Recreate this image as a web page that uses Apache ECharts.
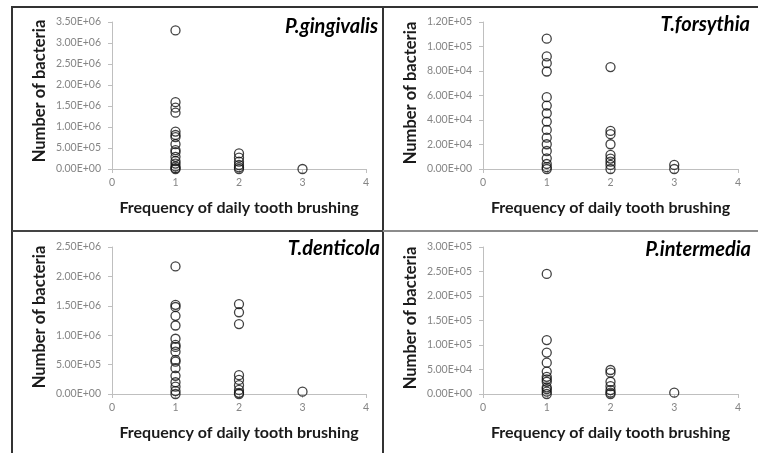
<!DOCTYPE html>
<html><head><meta charset="utf-8">
<script src="https://cdn.jsdelivr.net/npm/echarts@6/dist/echarts.min.js"></script>
<style>html,body{margin:0;padding:0;background:#fff}#c{width:758px;height:453px}</style>
</head><body><div id="c"></div>
<script>
// Panel titles
const panelTitles = ['P.gingivalis', 'T.forsythia', 'T.denticola', 'P.intermedia'];
const xTitle = 'Frequency of daily tooth brushing';
const yTitle = 'Number of bacteria';
// x tick values (brushing frequency)
const xTicks = [0, 1, 2, 3, 4];
// y-axis ranges [max, interval]
const yMax = [3.5e6, 1.2e5, 2.5e6, 3.0e5];
const yStep = [5e5, 2e4, 5e5, 5e4];

// P.gingivalis
const pgX1 = [3.30e6, 1.59e6, 1.46e6, 1.34e6, 0.89e6, 0.81e6, 0.76e6, 0.59e6, 0.45e6, 0.40e6, 0.29e6, 0.19e6, 0.13e6, 0.06e6, 0.02e6, 0];
const pgX2 = [0.37e6, 0.27e6, 0.175e6, 0.095e6, 0.04e6, 0];
const pgX3 = [0];
// T.forsythia
const tfX1 = [1.064e5, 9.19e4, 8.64e4, 7.96e4, 5.86e4, 5.18e4, 4.55e4, 3.87e4, 3.19e4, 2.56e4, 2.02e4, 1.47e4, 0.87e4, 0.41e4, 0.15e4, 0];
const tfX2 = [8.32e4, 3.11e4, 2.84e4, 2.02e4, 1.15e4, 0.85e4, 0.6e4, 0.33e4, 0];
const tfX3 = [0.33e4, 0];
// T.denticola
const tdX1 = [2.17e6, 1.517e6, 1.48e6, 1.33e6, 1.165e6, 0.94e6, 0.835e6, 0.80e6, 0.72e6, 0.58e6, 0.55e6, 0.44e6, 0.31e6, 0.20e6, 0.125e6, 0.05e6, 0];
const tdX2 = [1.53e6, 1.39e6, 1.19e6, 0.32e6, 0.24e6, 0.15e6, 0.07e6, 0.02e6, 0];
const tdX3 = [0.04e6];
// P.intermedia
const piX1 = [2.45e5, 1.10e5, 8.45e4, 6.4e4, 4.57e4, 3.5e4, 3.0e4, 2.5e4, 1.36e4, 1.0e4, 0.48e4, 0];
const piX2 = [4.9e4, 4.36e4, 2.5e4, 1.6e4, 0.8e4, 0.3e4, 0];
const piX3 = [0.27e4];

const panels = [[pgX1, pgX2, pgX3], [tfX1, tfX2, tfX3], [tdX1, tdX2, tdX3], [piX1, piX2, piX3]];

function fmtE(v) {
  if (v === 0) return '0.00E+00';
  const s = v.toExponential(2).toUpperCase();
  const m = s.split('E');
  let e = parseInt(m[1], 10);
  const sign = e < 0 ? '-' : '+';
  e = Math.abs(e);
  return m[0] + 'E' + sign + (e < 10 ? '0' + e : '' + e);
}

const FONT = 'Lato';
const gridPos = [
  {left: 112, top: 22, width: 254, height: 147},
  {left: 483, top: 22, width: 255, height: 147},
  {left: 112, top: 247, width: 254, height: 147},
  {left: 483, top: 247, width: 255, height: 147}
];
const yTitlePos = [[40, 91], [411, 93], [40, 317], [411, 318]];
const grids = [], xAxes = [], yAxes = [], series = [], graphics = [];
const axisLineStyle = {color: '#bfbfbf', width: 1};
panels.forEach((cols, i) => {
  grids.push(Object.assign({containLabel: false}, gridPos[i]));
  xAxes.push({
    type: 'value', gridIndex: i, min: xTicks[0], max: xTicks[xTicks.length - 1], interval: 1,
    axisLine: {show: true, lineStyle: axisLineStyle},
    axisTick: {show: true, length: 4, lineStyle: axisLineStyle},
    splitLine: {show: false},
    axisLabel: {color: '#858585', fontSize: 10.5, fontFamily: FONT, margin: 8},
    name: xTitle, nameLocation: 'middle', nameGap: 31,
    nameTextStyle: {fontFamily: FONT, fontWeight: 'bold', fontSize: 16, color: '#1a1a1a'}
  });
  yAxes.push({
    type: 'value', gridIndex: i, min: 0, max: yMax[i], interval: yStep[i],
    axisLine: {show: true, lineStyle: axisLineStyle},
    axisTick: {show: true, length: 4, lineStyle: axisLineStyle},
    splitLine: {show: false},
    axisLabel: {color: '#858585', fontSize: 10.5, fontFamily: FONT, margin: 11, formatter: fmtE}
  });
  graphics.push({type: 'text', x: yTitlePos[i][0], y: yTitlePos[i][1], rotation: Math.PI / 2,
    style: {text: yTitle, align: 'center', verticalAlign: 'middle', fill: '#1a1a1a',
      font: 'bold 16.5px ' + FONT}});
  const data = [];
  cols.forEach((vals, k) => vals.forEach(v => data.push([k + 1, v])));
  series.push({
    type: 'scatter', xAxisIndex: i, yAxisIndex: i, data: data,
    symbol: 'circle', symbolSize: 9, silent: true,
    itemStyle: {color: 'rgba(0,0,0,0)', borderColor: '#111', borderWidth: 1.3}
  });
});
const titleX = [378, 750, 380, 751];
const titleY = [27, 25, 249, 250];
panelTitles.forEach((t, i) => {
  graphics.push({type: 'text', x: titleX[i], y: titleY[i], style: {
    text: t, align: 'right', verticalAlign: 'middle', fill: '#000',
    font: 'italic bold 20px ' + FONT}});
});
// frame lines
const dark = '#333333';
graphics.push({type: 'line', shape: {x1: 12, y1: 7, x2: 758, y2: 7}, style: {stroke: dark, lineWidth: 2}});
graphics.push({type: 'line', shape: {x1: 12, y1: 6, x2: 12, y2: 453}, style: {stroke: dark, lineWidth: 2}});
graphics.push({type: 'line', shape: {x1: 383, y1: 6, x2: 383, y2: 453}, style: {stroke: dark, lineWidth: 2}});
graphics.push({type: 'line', shape: {x1: 12, y1: 231, x2: 383, y2: 231}, style: {stroke: '#444', lineWidth: 2}});
graphics.push({type: 'line', shape: {x1: 383, y1: 231, x2: 758, y2: 231}, style: {stroke: '#8c8c8c', lineWidth: 2}});

const chart = echarts.init(document.getElementById('c'), null, {renderer: 'canvas'});
chart.setOption({
  animation: false,
  backgroundColor: '#fff',
  grid: grids, xAxis: xAxes, yAxis: yAxes, series: series, graphic: graphics
});
</script></body></html>
